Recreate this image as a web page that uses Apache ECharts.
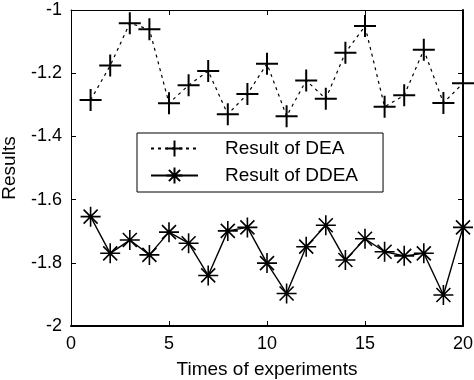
<!DOCTYPE html>
<html>
<head>
<meta charset="utf-8">
<script src="https://cdn.jsdelivr.net/npm/echarts@6/dist/echarts.min.js"></script>
<style>
  html, body { margin: 0; padding: 0; background: #fff; }
  #main { width: 474px; height: 380px; }
</style>
</head>
<body>
<div id="main"></div>
<script>
// data
var times = [1, 2, 3, 4, 5, 6, 7, 8, 9, 10, 11, 12, 13, 14, 15, 16, 17, 18, 19, 20];
var resultDEA = [-1.285, -1.176, -1.042, -1.061, -1.295, -1.238, -1.193, -1.330, -1.266, -1.170,
                 -1.336, -1.223, -1.281, -1.135, -1.051, -1.306, -1.270, -1.126, -1.294, -1.232];
var resultDDEA = [-1.654, -1.770, -1.728, -1.775, -1.703, -1.738, -1.840, -1.699, -1.688, -1.801,
                  -1.897, -1.749, -1.681, -1.791, -1.724, -1.765, -1.778, -1.770, -1.902, -1.688];
var seriesNames = ['Result of DEA', 'Result of DDEA'];

var FONT = 'Liberation Sans';
var plusPath = 'path://M0,10L20,10M10,0L10,20';
var starPath = 'path://M0,10L20,10M10,0L10,20M3,3L17,17M17,3L3,17';

function pairs(ys) {
    return times.map(function (t, i) { return [t, ys[i]]; });
}

var chart = echarts.init(document.getElementById('main'));

var option = {
    animation: false,
    backgroundColor: '#fff',
    grid: { left: 71, right: 11, top: 10, bottom: 54, outerBoundsMode: 'none', containLabel: false },
    legend: {
        orient: 'vertical',
        left: 137,
        top: 133,
        padding: [5, 25, 6, 13],
        itemGap: 6,
        itemWidth: 47,
        itemHeight: 20,
        backgroundColor: '#fff',
        borderColor: '#000',
        borderWidth: 1,
        borderRadius: 0,
        textStyle: { fontFamily: FONT, fontSize: 19, color: '#000', padding: [0, 0, 0, 22], lineHeight: 21 },
        data: seriesNames
    },
    xAxis: [
        {
            type: 'value', min: 0, max: 20, interval: 5,
            name: 'Times of experiments', nameLocation: 'middle', nameGap: 34,
            nameTextStyle: { fontFamily: FONT, fontSize: 19, color: '#000' },
            axisLine: { lineStyle: { color: '#000', width: 2 } },
            axisTick: { inside: true, length: 5, lineStyle: { color: '#000' } },
            axisLabel: { fontFamily: FONT, fontSize: 18, color: '#000', margin: 9 },
            splitLine: { show: false }
        },
        {
            type: 'value', min: 0, max: 20, interval: 5, position: 'top',
            axisLine: { onZero: false, lineStyle: { color: '#000', width: 1 } },
            axisTick: { inside: true, length: 5, lineStyle: { color: '#000' } },
            axisLabel: { show: false },
            splitLine: { show: false }
        }
    ],
    yAxis: [
        {
            type: 'value', min: -2, max: -1, interval: 0.2,
            name: 'Results', nameLocation: 'middle', nameGap: 52, nameRotate: 90,
            nameTextStyle: { fontFamily: FONT, fontSize: 19, color: '#000' },
            axisLine: { show: true, onZero: false, lineStyle: { color: '#000', width: 1 } },
            axisTick: { show: true, inside: true, length: 5, lineStyle: { color: '#000' } },
            axisLabel: { fontFamily: FONT, fontSize: 18, color: '#000', margin: 9 },
            splitLine: { show: false }
        },
        {
            type: 'value', min: -2, max: -1, interval: 0.2, position: 'right',
            axisLine: { show: true, onZero: false, lineStyle: { color: '#000', width: 2 } },
            axisTick: { show: true, inside: true, length: 5, lineStyle: { color: '#000' } },
            axisLabel: { show: false },
            splitLine: { show: false }
        }
    ],
    series: [
        {
            name: seriesNames[0],
            type: 'line',
            data: pairs(resultDEA),
            symbol: plusPath,
            symbolSize: 22,
            lineStyle: { color: '#000', width: 1.2, type: [3, 4] },
            itemStyle: { color: '#000', borderColor: '#000', borderWidth: 2 }
        },
        {
            name: seriesNames[1],
            type: 'line',
            data: pairs(resultDDEA),
            symbol: starPath,
            symbolSize: 20,
            lineStyle: { color: '#000', width: 1.4 },
            itemStyle: { color: '#000', borderColor: '#000', borderWidth: 1.6 }
        }
    ]
};

chart.setOption(option);
</script>
</body>
</html>
